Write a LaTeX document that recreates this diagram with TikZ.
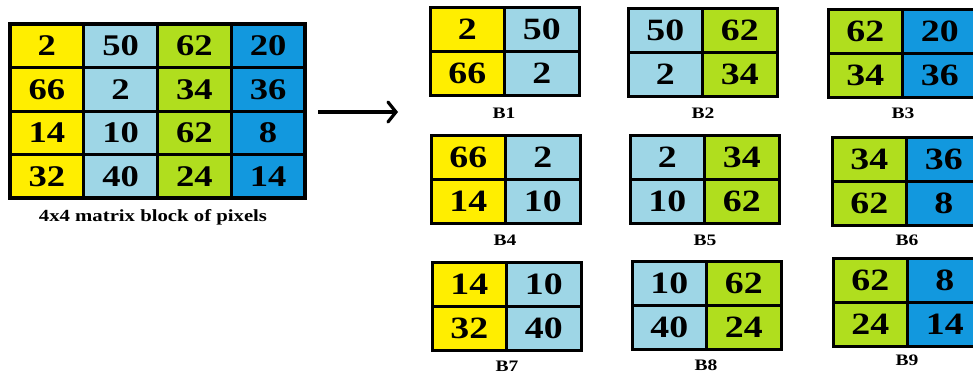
\documentclass[tikz,border=0pt]{standalone}
\usepackage{fontspec}
\setmainfont{Liberation Serif}[FakeStretch=1.22]
\usetikzlibrary{arrows.meta}
\definecolor{cYel}{RGB}{255,238,0}
\definecolor{cSky}{RGB}{158,214,230}
\definecolor{cLime}{RGB}{176,222,30}
\definecolor{cBlue}{RGB}{18,152,222}

% one 2x2 block: name, left, top, left colour, right colour, four values
\newcommand\quadblock[9]{%
  \node[smallcell, fill=#4] (#1a) at ({#2+37.25},{#3+22}) {#6};
  \node[smallcell, fill=#5] (#1b) at ({#2+111.75},{#3+22}) {#7};
  \node[smallcell, fill=#4] (#1c) at ({#2+37.25},{#3+66}) {#8};
  \node[smallcell, fill=#5] (#1d) at ({#2+111.75},{#3+66}) {#9};
}

\begin{document}
\begin{tikzpicture}[x=1pt,y=-1pt,
  cellbox/.style={draw=black, line width=3pt, inner sep=0pt, outer sep=0pt,
    font=\bfseries\fontsize{30}{30}\selectfont},
  bigcell/.style={cellbox, minimum width=73.75pt, minimum height=43.5pt},
  smallcell/.style={cellbox, minimum width=74.5pt, minimum height=44pt,
    font=\bfseries\fontsize{31}{31}\selectfont},
  lbl/.style={font=\bfseries\fontsize{16}{16}\selectfont, inner sep=0pt},
  ]
\useasboundingbox (0,0) rectangle (973,376);

% the 4x4 pixel matrix
\foreach \v [count=\i from 0] in {2,50,62,20,66,2,34,36,14,10,62,8,32,40,24,14}{
  \pgfmathtruncatemacro\cc{mod(\i,4)}
  \pgfmathtruncatemacro\rr{div(\i,4)}
  \pgfmathparse{{"cYel","cSky","cLime","cBlue"}[\cc]}
  \let\colname\pgfmathresult
  \node[bigcell, fill=\colname] (m\rr\cc) at ({10+73.75*(\cc+0.5)},{24+43.5*(\rr+0.5)}) {\raisebox{-2.5pt}{\v}};
}
\draw[line width=4pt] (m00.north west) rectangle (m33.south east);
\node[lbl, font=\bfseries\fontsize{17}{17}\selectfont] (cap) at (153,217) {4x4 matrix block of pixels};

% arrow
\coordinate (arrS) at (318,112);
\coordinate (arrE) at (398,112);
\draw[line width=3.2pt, -{Straight Barb[length=8pt,width=20pt,line cap=round]}] (arrS) -- (arrE);

% the nine overlapping 2x2 blocks
\quadblock{B1}{430}{7}{cYel}{cSky}{2}{50}{66}{2}
\quadblock{B2}{628}{8}{cSky}{cLime}{50}{62}{2}{34}
\quadblock{B3}{828}{9}{cLime}{cBlue}{62}{20}{34}{36}
\quadblock{B4}{431}{135}{cYel}{cSky}{66}{2}{14}{10}
\quadblock{B5}{630}{135}{cSky}{cLime}{2}{34}{10}{62}
\quadblock{B6}{832}{137}{cLime}{cBlue}{34}{36}{62}{8}
\quadblock{B7}{432}{262}{cYel}{cSky}{14}{10}{32}{40}
\quadblock{B8}{632}{261}{cSky}{cLime}{10}{62}{40}{24}
\quadblock{B9}{833}{258}{cLime}{cBlue}{62}{8}{24}{14}

\node[lbl] (L1) at (504,113) {B1};
\node[lbl] (L2) at (703,113) {B2};
\node[lbl] (L3) at (903,113) {B3};
\node[lbl] (L4) at (505,240) {B4};
\node[lbl] (L5) at (705,240) {B5};
\node[lbl] (L6) at (907,240) {B6};
\node[lbl] (L7) at (507,366) {B7};
\node[lbl] (L8) at (706,365) {B8};
\node[lbl] (L9) at (907,360) {B9};
\end{tikzpicture}
\end{document}
